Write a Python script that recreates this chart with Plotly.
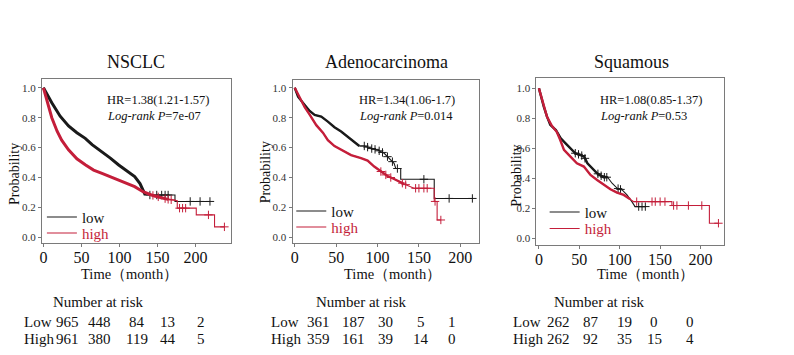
import numpy as np
import plotly.graph_objects as go

# ---------------- data ----------------
titles = ["NSCLC", "Adenocarcinoma", "Squamous"]
hr_text = ["HR=1.38(1.21-1.57)", "HR=1.34(1.06-1.7)", "HR=1.08(0.85-1.37)"]
p_text = ["7e-07", "0.014", "0.53"]
group_names = ["low", "high"]
x_ticks = [0, 50, 100, 150, 200]
y_ticks = [0.0, 0.2, 0.4, 0.6, 0.8, 1.0]

# NSCLC
nsclc_low_t = [0, 3, 11, 22, 33, 44, 55, 64, 77, 88, 99, 110, 120, 127, 131, 134, 173, 173, 219]
nsclc_low_s = [1.0, 0.97, 0.90, 0.81, 0.745, 0.70, 0.662, 0.62, 0.573, 0.53, 0.484, 0.445, 0.406, 0.36, 0.32, 0.283, 0.283, 0.24, 0.24]
nsclc_low_cens = [140, 149, 155.5, 160, 164, 193, 206, 219]
nsclc_high_t = [0, 4, 7, 11, 18, 24, 33, 44, 55, 66, 77, 88, 99, 110, 120, 131, 142, 155, 164, 176, 176, 201, 201, 225, 225, 238]
nsclc_high_s = [1.0, 0.93, 0.87, 0.80, 0.71, 0.65, 0.585, 0.525, 0.485, 0.45, 0.428, 0.405, 0.383, 0.36, 0.339, 0.305, 0.283, 0.265, 0.254, 0.245, 0.195, 0.195, 0.15, 0.15, 0.07, 0.07]
nsclc_high_cens = [144, 151, 160, 164, 168, 179, 183, 187, 217, 238]

# Adenocarcinoma
adeno_low_t = [0, 4, 12, 18, 24, 32, 40, 48, 56, 64, 72, 78, 84, 92, 100, 108, 114, 120, 122, 128, 128, 168.5, 168.5, 214.6]
adeno_low_s = [1.0, 0.94, 0.885, 0.845, 0.818, 0.807, 0.774, 0.736, 0.707, 0.673, 0.64, 0.611, 0.611, 0.595, 0.584, 0.562, 0.528, 0.495, 0.46, 0.46, 0.388, 0.388, 0.26, 0.26]
adeno_low_cens = [84, 88, 93, 97, 102, 106, 112, 118, 124, 156, 186.5, 214.6]
adeno_high_t = [0, 6, 12, 18, 26, 34, 40, 48, 56, 68, 80, 88, 96, 104, 112, 120, 126, 132, 144, 168.5, 168.5, 172, 172, 176.5]
adeno_high_s = [1.0, 0.93, 0.87, 0.82, 0.75, 0.70, 0.65, 0.61, 0.584, 0.55, 0.53, 0.513, 0.473, 0.44, 0.41, 0.39, 0.372, 0.357, 0.328, 0.328, 0.24, 0.24, 0.116, 0.116]
adeno_high_cens = [104, 110, 116, 130, 134, 146, 150, 156, 160, 169.5, 176.5]

# Squamous
squam_low_t = [0, 2, 6, 10, 14, 21, 27, 33, 39, 45, 51, 56, 60, 66, 72, 80, 85, 90.5, 97, 103, 109, 115, 119, 132]
squam_low_s = [1.0, 0.956, 0.878, 0.811, 0.756, 0.722, 0.667, 0.633, 0.60, 0.567, 0.556, 0.544, 0.50, 0.467, 0.433, 0.407, 0.407, 0.367, 0.333, 0.322, 0.289, 0.244, 0.211, 0.211]
squam_low_cens = [45, 49, 53, 57, 73, 77, 81, 84, 98, 101, 123.5, 127.6, 131.7]
squam_high_t = [0, 2, 6, 10, 16, 22, 26, 31, 39, 47, 55.6, 63.8, 72, 80, 88.5, 96.7, 105, 113, 117.3, 164.6, 164.6, 211, 211, 222.2]
squam_high_s = [1.0, 0.96, 0.88, 0.81, 0.75, 0.71, 0.66, 0.589, 0.544, 0.50, 0.478, 0.422, 0.389, 0.356, 0.327, 0.304, 0.289, 0.26, 0.244, 0.244, 0.218, 0.218, 0.10, 0.10]
squam_high_cens = [121, 140, 144, 150, 156, 166.7, 170.8, 185, 201.6, 222.2]

risk_labels = ["Low", "High"]
nsclc_risk_low = [965, 448, 84, 13, 2]
nsclc_risk_high = [961, 380, 119, 44, 5]
adeno_risk_low = [361, 187, 30, 5, 1]
adeno_risk_high = [359, 161, 39, 14, 0]
squam_risk_low = [262, 87, 19, 0, 0]
squam_risk_high = [262, 92, 35, 15, 4]

# ---------------- style / layout ----------------
BLACK = "#1a1a1a"
RED = "#c41e3a"
FONT = "Liberation Serif"
FW, FH = 794, 355


def px(x):
    return x / FW


def py(y):
    return 1 - y / FH


panels = [
    dict(box=(40, 79, 229.3, 243), xr=[-2.0, 246.3], yr=[-0.038, 1.059],
         curves=[(nsclc_low_t, nsclc_low_s, nsclc_low_cens, 134, 3.0),
                 (nsclc_high_t, nsclc_high_s, nsclc_high_cens, 166, 3.0)],
         risk=(nsclc_risk_low, nsclc_risk_high),
         title_x=134, hr_x=103, prob_x=12, prob_y=174, time_x=77,
         leg_x=40, leg_y=(200.7, 216.7), nar_x=96.7, lab_x=20, cols=[66, 98, 135, 166, 200]),
    dict(box=(291.3, 80, 478.3, 242.7), xr=[-2.65, 222.7], yr=[-0.036, 1.052],
         curves=[(adeno_low_t, adeno_low_s, adeno_low_cens, 80, 2.4),
                 (adeno_high_t, adeno_high_s, adeno_high_cens, 132, 2.4)],
         risk=(adeno_risk_low, adeno_risk_high),
         title_x=385, hr_x=356, prob_x=264, prob_y=172, time_x=341,
         leg_x=290, leg_y=(194.7, 210.7), nar_x=359.5, lab_x=268, cols=[317, 352, 384, 420, 451]),
    dict(box=(535.7, 78.3, 724, 244.5), xr=[-3.2, 229.3], yr=[-0.042, 1.067],
         curves=[(squam_low_t, squam_low_s, squam_low_cens, 85, 2.4),
                 (squam_high_t, squam_high_s, squam_high_cens, 115, 2.4)],
         risk=(squam_risk_low, squam_risk_high),
         title_x=631, hr_x=598, prob_x=515, prob_y=176, time_x=594,
         leg_x=544, leg_y=(195.7, 212.3), nar_x=599, lab_x=510, cols=[558, 590, 624, 654, 690]),
]

fig = go.Figure()
annotations = []
colors = [BLACK, RED]

for i, p in enumerate(panels):
    k = "" if i == 0 else str(i + 1)
    xa, ya = "x" + k, "y" + k
    for g, (t, s, cens, dense_until, dense_w) in enumerate(p["curves"]):
        col = colors[g]
        n = i * 2 + g + 1
        leg = "legend" if n == 1 else "legend" + str(n)
        name = group_names[g] if g == 0 else f"<span style='color:{RED}'>{group_names[g]}</span>"
        t_arr = np.array(t, dtype=float)
        s_arr = np.array(s, dtype=float)
        fig.add_trace(go.Scatter(x=t_arr, y=s_arr, mode="lines", line=dict(color=col, width=1.1),
                                 name=name, legend=leg, xaxis=xa, yaxis=ya, showlegend=True))
        m = t_arr <= dense_until
        fig.add_trace(go.Scatter(x=t_arr[m], y=s_arr[m], mode="lines", line=dict(color=col, width=dense_w),
                                 xaxis=xa, yaxis=ya, showlegend=False, hoverinfo="skip"))
        c = np.array(cens, dtype=float)
        cy = np.interp(c, t_arr, s_arr)
        fig.add_trace(go.Scatter(x=c, y=cy, mode="markers",
                                 marker=dict(symbol="cross-thin", size=6, line=dict(color=col, width=1)),
                                 xaxis=xa, yaxis=ya, showlegend=False, hoverinfo="skip"))
        fig.update_layout(**{leg: dict(x=px(p["leg_x"]), y=py(p["leg_y"][g]), xanchor="left", yanchor="top",
                                       bgcolor="rgba(0,0,0,0)", borderwidth=0,
                                       font=dict(family=FONT, size=15, color="#111"),
                                       itemclick=False, itemdoubleclick=False)})

    x0, y0, x1, y1 = p["box"]
    axis_common = dict(showline=True, mirror=True, linecolor="#7a7a7a", linewidth=1,
                       ticks="outside", ticklen=3, tickcolor="#7a7a7a", showgrid=False,
                       zeroline=False, fixedrange=True)
    fig.update_layout(**{
        "xaxis" + k: dict(domain=[px(x0), px(x1)], range=p["xr"], anchor=ya, tickvals=x_ticks,
                          ticklabelstandoff=-3,
                          tickfont=dict(family=FONT, size=16, color="#111"), **axis_common),
        "yaxis" + k: dict(domain=[py(y1), py(y0)], range=p["yr"], anchor=xa, tickvals=y_ticks,
                          tickformat=".1f", tickfont=dict(family=FONT, size=11, color="#333"), **axis_common),
    })

    # title
    annotations.append(dict(text=titles[i], x=px(p["title_x"]), y=py(62), xref="paper", yref="paper",
                            xanchor="center", yanchor="middle", showarrow=False,
                            font=dict(family=FONT, size=18, color="#111")))
    # HR and p
    annotations.append(dict(text=hr_text[i], x=px(p["hr_x"]), y=py(100), xref="paper", yref="paper",
                            xanchor="left", yanchor="middle", showarrow=False,
                            font=dict(family=FONT, size=12.5, color="#111")))
    annotations.append(dict(text="<i>Log-rank P</i>=" + p_text[i], x=px(p["hr_x"]), y=py(115.5),
                            xref="paper", yref="paper", xanchor="left", yanchor="middle", showarrow=False,
                            font=dict(family=FONT, size=12.5, color="#111")))
    # axis titles
    annotations.append(dict(text="Probability", x=px(p["prob_x"]), y=py(p["prob_y"]), xref="paper", yref="paper",
                            xanchor="center", yanchor="middle", textangle=-90, showarrow=False,
                            font=dict(family=FONT, size=14, color="#111")))
    annotations.append(dict(text="Time（month）", x=px(p["time_x"]), y=py(274), xref="paper", yref="paper",
                            xanchor="left", yanchor="middle", showarrow=False,
                            font=dict(family=FONT, size=14.5, color="#111")))
    # risk table
    annotations.append(dict(text="Number at risk", x=px(p["nar_x"]), y=py(302.3), xref="paper", yref="paper",
                            xanchor="center", yanchor="middle", showarrow=False,
                            font=dict(family=FONT, size=15, color="#111")))
    for r, (lab, vals) in enumerate(zip(risk_labels, p["risk"])):
        yy = py(321.7 if r == 0 else 339.3)
        annotations.append(dict(text=lab, x=px(p["lab_x"]), y=yy, xref="paper", yref="paper",
                                xanchor="left", yanchor="middle", showarrow=False,
                                font=dict(family=FONT, size=15, color="#111")))
        for cx, v in zip(p["cols"], vals):
            annotations.append(dict(text=str(v), x=px(cx), y=yy, xref="paper", yref="paper",
                                    xanchor="center", yanchor="middle", showarrow=False,
                                    font=dict(family=FONT, size=15, color="#111")))

fig.update_layout(width=FW, height=FH, margin=dict(l=0, r=0, t=0, b=0),
                  paper_bgcolor="white", plot_bgcolor="white", annotations=annotations,
                  hovermode=False)

fig.write_html("out.html", config={"displayModeBar": False},
               post_script="document.body.style.margin='0';document.body.style.overflow='hidden';")
